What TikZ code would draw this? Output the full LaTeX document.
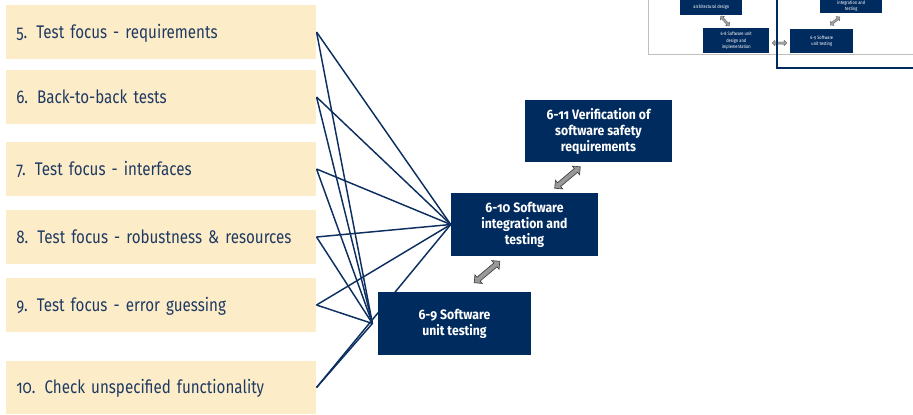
\documentclass[tikz,border=0pt]{standalone}
\usepackage{fontspec}
\setmainfont[Numbers=OldStyle,FakeStretch=0.83]{Fira Sans}
\newfontfamily\boxfont[Numbers=OldStyle,FakeStretch=0.9]{Fira Sans}
\usetikzlibrary{shapes.arrows}
\definecolor{navy}{HTML}{002B5E}
\definecolor{peach}{HTML}{FDECC8}
\definecolor{txt}{HTML}{1E3A63}
\definecolor{linec}{HTML}{0C2F60}
\pgfdeclarelayer{bg}
\pgfsetlayers{bg,main}
\tikzset{
  testbox/.style={fill=peach, minimum width=232.5pt, minimum height=40.5pt, inner xsep=7.5pt,
    text width=217.5pt, text height=10.5pt, text depth=1pt, align=left,
    font=\fontsize{13.7pt}{15pt}\selectfont, text=txt, anchor=west},
  procbox/.style={fill=navy, text=white, align=center, font=\boxfont\fontsize{10.2pt}{12pt}\selectfont\bfseries},
  fanline/.style={draw=linec, line width=1.1pt},
  dblarrow/.style={double arrow, fill=black!40, draw=black!75, line width=0.5pt, inner sep=1.3pt,
    minimum width=8.5pt, double arrow head extend=2pt, minimum height=25pt},
  minibox/.style={fill=navy, text=white!85, align=center, font=\fontsize{3.6pt}{4.6pt}\selectfont, inner sep=0pt},
  minarrow/.style={double arrow, fill=black!35, draw=black!60, line width=0.3pt, inner sep=0.5pt,
    minimum width=4pt, double arrow head extend=1pt}
}
\begin{document}
\begin{tikzpicture}[x=0.75pt,y=-0.75pt]
\useasboundingbox (0,0) rectangle (913,414);
% inset (cropped thumbnail)
\begin{scope}
\clip (0,0) rectangle (913,414);
\node[draw=black!25, fill=white, line width=0.6pt, minimum width=213.75pt, minimum height=60pt, anchor=south west] (frame) at (648,55) {};
\node[minibox, minimum width=46.5pt, minimum height=12pt, anchor=south west] (m7) at (680,15) {architectural design};
\node[minibox, minimum width=49.5pt, minimum height=18.75pt, anchor=north west] (m8) at (703,28) {6-8 Software unit\\design and\\implementation};
\node[minibox, minimum width=47.25pt, minimum height=18pt, anchor=north west] (m9) at (790,29) {6-9 Software\\unit testing};
\node[minibox, minimum width=46.5pt, minimum height=10.5pt, anchor=south west] (m10) at (820,13) {integration and\\testing};
\node[minarrow, minimum height=10pt, rotate=-48] (ma1) at (725,21) {};
\node[minarrow, minimum height=11pt] (ma2) at (779.5,43) {};
\node[minarrow, minimum height=9.5pt, rotate=40] (ma3) at (835,21) {};
\coordinate (bl1) at (777,-5);
\coordinate (bl2) at (777,68);
\coordinate (bl3) at (920,68);
\draw[navy, line width=1.3pt] (bl1) -- (bl2) -- (bl3);
\end{scope}
% left test boxes
\node[testbox] (t5) at (6,32) {5. Test focus - requirements};
\node[testbox] (t6) at (6,97) {6. Back-to-back tests};
\node[testbox] (t7) at (6,169) {7. Test focus - interfaces};
\node[testbox] (t8) at (6,237) {8. Test focus - robustness \& resources};
\node[testbox] (t9) at (6,305) {9. Test focus - error guessing};
\node[testbox, minimum height=40pt] (t10) at (6,387.5) {10. Check unspecified functionality};
% process boxes
\node[procbox, minimum width=110.25pt, minimum height=47.25pt] (p10) at (524.5,224.5) {6-10 Software\\integration and\\testing};
\node[procbox, minimum width=110.25pt, minimum height=46.5pt] (p11) at (598.5,131) {6-11 Verification of\\software safety\\requirements};
\node[procbox, minimum width=114.75pt, minimum height=47.25pt] (p9) at (454.5,323.5) {6-9 Software\\unit testing};
\coordinate (B) at ([xshift=-4pt]p9.west);
% connectors
\begin{pgfonlayer}{bg}
\foreach \t in {t5,t6,t7,t8,t9,t10}{
  \draw[fanline] (\t.east) -- (p10.west);
  \draw[fanline] (\t.east) -- (B);
}
\end{pgfonlayer}
% gray double arrows
\node[dblarrow, rotate=40] (a1) at (567.5,177.5) {};
\node[dblarrow, rotate=40] (a2) at (487,272) {};
\end{tikzpicture}
\end{document}
